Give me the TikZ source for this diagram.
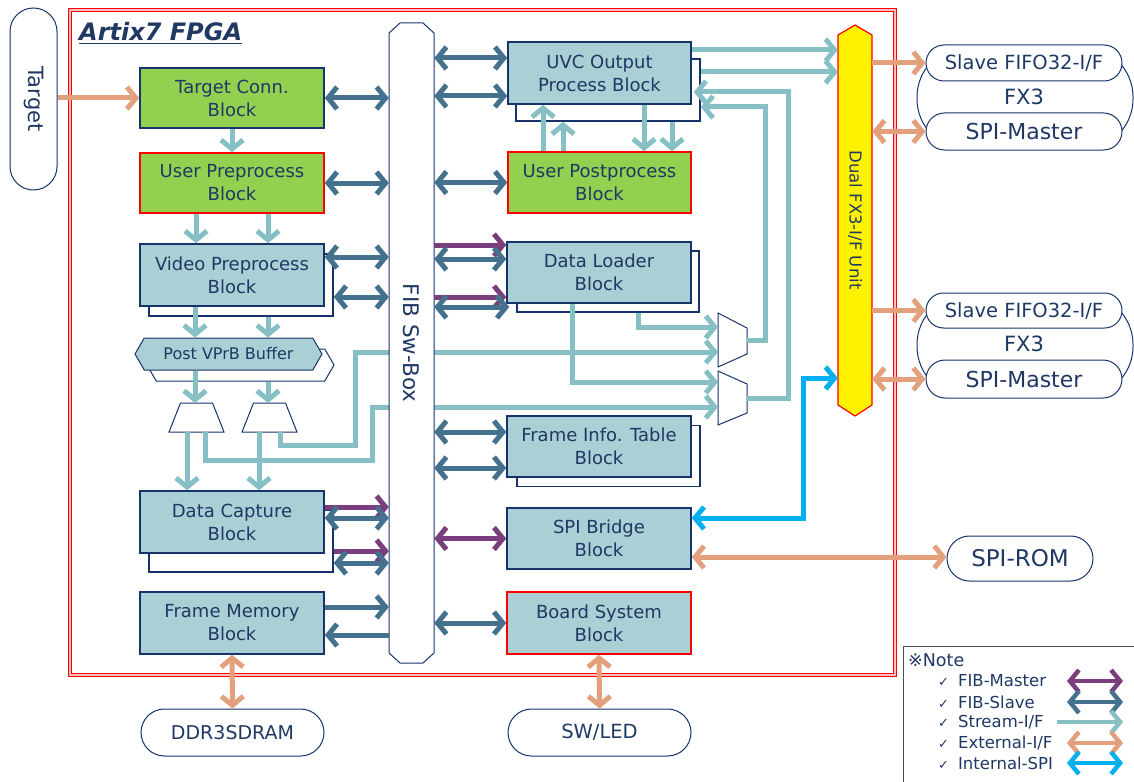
\documentclass[tikz,border=0pt]{standalone}
\usepackage{fontspec}
\setmainfont{DejaVu Sans}
\usetikzlibrary{arrows.meta,shapes.symbols,calc}
\definecolor{navy}{HTML}{17336B}
\definecolor{txtc}{HTML}{1F3864}
\definecolor{lblue}{HTML}{AACFD4}
\definecolor{grn}{HTML}{92D050}
\definecolor{steel}{HTML}{43718E}
\definecolor{purp}{HTML}{7A3E7C}
\definecolor{strc}{HTML}{86C0C4}
\definecolor{tanc}{HTML}{E2A07C}
\definecolor{cyanc}{HTML}{00B0F0}
\newcommand{\fblk}{\fontsize{18}{23}\selectfont}
\newcommand{\ckm}{{\fontsize{13}{13}\selectfont ✓}\hspace{9pt}}
\tikzset{
  txt/.style={text=txtc, align=center},
  blk/.style={draw=navy, line width=1.6pt, fill=lblue, minimum width=184pt, minimum height=61pt, inner sep=0pt, txt, font=\fblk},
  grnblk/.style={blk, fill=grn},
  backbox/.style={draw=navy, line width=1.6pt, fill=white, minimum width=184pt, minimum height=61pt, inner sep=0pt},
  pill/.style={draw=navy, line width=1pt, fill=white, inner sep=0pt, txt},
  conn/.style={line width=5pt},
  ext/.style={conn, draw=tanc},
  fibs/.style={conn, draw=steel},
  fibm/.style={conn, draw=purp},
  strm/.style={conn, draw=strc},
  ispi/.style={conn, draw=cyanc},
  muxs/.style={draw=navy, line width=1pt, fill=white},
  bufs/.style={shape=signal, signal to=west and east, signal pointer angle=120, minimum width=187pt, minimum height=32pt, inner sep=0pt, draw=navy, line width=1pt},
  legtxt/.style={anchor=west, txt, font=\fontsize{16.5}{19}\selectfont, inner sep=0pt},
}
\begin{document}
\begin{tikzpicture}[x=1pt,y=-1pt,>={Straight Barb[length=9pt,width=22pt]}]
\useasboundingbox (0,0) rectangle (1134,781);
% FPGA frame
\draw[draw=red, line width=1pt, double=red!25, double distance=1.4pt] (70,10) rectangle (895,675);
\node[anchor=west, font=\bfseries\itshape\fontsize{24}{28}\selectfont, text=txtc, inner sep=0pt] (title) at (79,32) {Artix7 FPGA};
\draw[txtc, line width=1.8pt] (title.south west) ++(0,2) -- ([yshift=-2pt]title.south east);

% external pills
\node[pill, minimum width=47pt, minimum height=182pt, rounded corners=23.5pt] (target) at (33.5,99) {\rotatebox{-90}{\fontsize{21}{24}\selectfont Target}};
\node[pill, minimum width=183pt, minimum height=47pt, rounded corners=23.5pt, font=\fontsize{19}{23}\selectfont] (ddr) at (232.5,732.5) {DDR3SDRAM};
\node[pill, minimum width=183pt, minimum height=47pt, rounded corners=23.5pt, font=\fontsize{19.5}{23}\selectfont] (swled) at (599.5,732.5) {SW/LED};
\node[pill, minimum width=146pt, minimum height=45pt, rounded corners=22.5pt, font=\fontsize{23}{26}\selectfont] (spirom) at (1020,558.5) {SPI-ROM};

% FX3 groups
\node[pill, minimum width=216pt, minimum height=102pt, rounded corners=50pt] (fx3a) at (1025,98) {};
\node[txt, font=\fontsize{21}{24}\selectfont] (fx3at) at (1024,97) {FX3};
\node[pill, minimum width=196pt, minimum height=36pt, rounded corners=18pt, font=\fontsize{19.5}{22}\selectfont] (sf1) at (1024,63) {Slave FIFO32-I/F};
\node[pill, minimum width=196pt, minimum height=37pt, rounded corners=18.5pt, font=\fontsize{22}{25}\selectfont] (sm1) at (1024,131.5) {SPI-Master};
\node[pill, minimum width=216pt, minimum height=102pt, rounded corners=50pt] (fx3b) at (1025,345.5) {};
\node[txt, font=\fontsize{21}{24}\selectfont] (fx3bt) at (1024,344) {FX3};
\node[pill, minimum width=196pt, minimum height=35pt, rounded corners=17.5pt, font=\fontsize{19.5}{22}\selectfont] (sf2) at (1024,310.5) {Slave FIFO32-I/F};
\node[pill, minimum width=196pt, minimum height=38pt, rounded corners=19pt, font=\fontsize{22}{25}\selectfont] (sm2) at (1024,379) {SPI-Master};

% left column blocks
\node[grnblk, minimum height=60pt] (tc) at (232,98) {Target Conn.\\Block};
\node[grnblk, draw=red, minimum height=60pt] (up) at (232,183) {User Preprocess\\Block};
\node[backbox, minimum height=62pt] (vpb) at (241,285) {};
\node[blk, minimum height=62pt] (vp) at (232,275) {Video Preprocess\\Block};
\node[bufs, fill=white] (bufb) at (240.5,365) {};
\node[bufs, fill=lblue, txt, font=\fontsize{16}{18}\selectfont] (buf) at (228.5,354) {Post VPrB Buffer};
\node[backbox, minimum height=62pt] (dcb) at (241,541) {};
\node[blk, minimum height=62pt] (dc) at (232,522) {Data Capture\\Block};
\node[blk, minimum height=62pt] (fm) at (232,623) {Frame Memory\\Block};

% middle column blocks
\node[backbox, minimum height=62pt] (uvcb) at (608,90) {};
\node[blk, minimum width=183pt, minimum height=62pt] (uvc) at (599.5,73) {UVC Output\\Process Block};
\node[grnblk, draw=red, minimum width=183pt] (upp) at (599.5,182.5) {User Postprocess\\Block};
\node[backbox, minimum width=182pt] (dlb) at (608,281.5) {};
\node[blk] (dl) at (599,272.5) {Data Loader\\Block};
\node[backbox, minimum width=183pt] (fitb) at (608.5,456) {};
\node[blk] (fit) at (599,446.5) {Frame Info. Table\\Block};
\node[blk] (spi) at (599,538.5) {SPI Bridge\\Block};
\node[blk, draw=red, minimum height=62pt] (bs) at (599,623) {Board System\\Block};

% muxes
\draw[muxs] (180.5,403) -- (212.5,403) -- (224,432) -- (169,432) -- cycle;
\draw[muxs] (253.5,403) -- (285.5,403) -- (297,432) -- (242,432) -- cycle;
\draw[muxs] (718,313) -- (747,328) -- (747,354) -- (718,367) -- cycle;
\draw[muxs] (718,371) -- (747,384) -- (747,413) -- (718,425) -- cycle;
\coordinate (m1i) at (195,403); \coordinate (m2i) at (268,403);
\coordinate (m1o1) at (187,432); \coordinate (m1o2) at (205,432);
\coordinate (m2o1) at (259,432); \coordinate (m2o2) at (280,432);
\coordinate (mAi1) at (718,327); \coordinate (mAi2) at (718,352); \coordinate (mAo) at (747,340);
\coordinate (mBi1) at (718,382); \coordinate (mBi2) at (718,407); \coordinate (mBo) at (747,398);

% stream lines passing behind the FIB box
\draw[strm,->] (m1o2) |- (372,460) |- (mBi2);
\draw[strm,->] (m2o2) |- (355,445) |- (mAi2);

% FIB Sw-Box
\node[minimum width=45pt, minimum height=640pt, inner sep=0pt] (fib) at (411.5,343) {};
\draw[draw=navy, line width=1pt, fill=white] (400,23) -- (423,23) -- (434,33) -- (434,653) -- (423,663) -- (400,663) -- (389,653) -- (389,33) -- cycle;
\node[txt] (fibt) at (411.5,343) {\rotatebox{-90}{\fontsize{21.5}{24}\selectfont FIB Sw-Box}};

% Dual FX3 unit
\node[minimum width=34pt, minimum height=391pt, inner sep=0pt] (dual) at (855,220.5) {};
\draw[draw=red, line width=1.2pt, fill=yellow] (838,35) -- (855,25) -- (872,35) -- (872,405) -- (855,416) -- (838,405) -- cycle;
\node[txt] (dualt) at (855,220) {\rotatebox{-90}{\fontsize{16.5}{19}\selectfont Dual FX3-I/F Unit}};

% ---- connectors: left column
\draw[ext,->] (target.east |- 0,98) -- (tc.west);
\draw[fibs,<->] (tc.east) -- (tc.east -| fib.west);
\draw[strm,->] (tc.south) -- (up.north);
\draw[fibs,<->] (up.east) -- (up.east -| fib.west);
\draw[strm,->] (up.south -| 196,0) -- (vp.north -| 196,0);
\draw[strm,->] (up.south -| 268,0) -- (vp.north -| 268,0);
\draw[fibs,<->] (vp.east |- 0,257) -- (fib.west |- 0,257);
\draw[fibs,<->] (vpb.east |- 0,297) -- (fib.west |- 0,297);
\draw[strm,->] (vp.south -| 195,0) -- (buf.north -| 195,0);
\draw[strm,->] (vpb.south -| 268,0) -- (buf.north -| 268,0);
\draw[strm,->] (buf.south -| 195,0) -- (m1i);
\draw[strm,->] (bufb.south -| 268,0) -- (m2i);
\draw[strm,->] (m1o1) -- (dc.north -| m1o1);
\draw[strm,->] (m2o1) -- (dc.north -| m2o1);
\draw[fibm,->] (dc.east |- 0,507) -- (fib.west |- 0,507);
\draw[fibs,<->] (dc.east |- 0,518) -- (fib.west |- 0,518);
\draw[fibm,->] (dcb.east |- 0,551) -- (fib.west |- 0,551);
\draw[fibs,<->] (dcb.east |- 0,563) -- (fib.west |- 0,563);
\draw[fibs,->] (fm.east |- 0,607) -- (fib.west |- 0,607);
\draw[fibs,->] (fib.west |- 0,635) -- (fm.east |- 0,635);
\draw[ext,<->] (fm.south) -- (ddr.north);

% ---- connectors: middle column
\draw[fibs,<->] (fib.east |- 0,58) -- (uvc.west |- 0,58);
\draw[fibs,<->] (fib.east |- 0,96) -- (uvc.west |- 0,96);
\draw[fibs,<->] (fib.east |- upp.west) -- (upp.west);
\draw[strm,->] (upp.north -| 543,0) -- (uvc.south -| 543,0);
\draw[strm,->] (upp.north -| 563,0) -- (uvcb.south -| 563,0);
\draw[strm,->] (uvc.south -| 644,0) -- (upp.north -| 644,0);
\draw[strm,->] (uvcb.south -| 672,0) -- (upp.north -| 672,0);
\draw[strm,->] (uvc.east |- 0,50) -- (dual.west |- 0,50);
\draw[strm,->] (uvcb.east |- 0,72) -- (dual.west |- 0,72);
\draw[strm,->] (mAo) -| (765,107) -- (uvcb.east |- 0,107);
\draw[strm,->] (mBo) -| (788,92) -- ([xshift=2pt]uvc.east |- 0,92);
\draw[fibm,->] (fib.east |- 0,245) -- (dl.west |- 0,245);
\draw[fibs,<->] (fib.east |- 0,259) -- (dl.west |- 0,259);
\draw[fibm,->] (fib.east |- 0,297) -- (dl.west |- 0,297);
\draw[fibs,<->] (fib.east |- 0,307) -- ([xshift=3pt]dl.west |- 0,307);
\draw[strm,->] (dlb.south -| 638,0) |- (mAi1);
\draw[strm,->] (dl.south -| 572,0) |- (mBi1);
\draw[fibs,<->] (fib.east |- 0,432) -- (fit.west |- 0,432);
\draw[fibs,<->] (fib.east |- 0,468) -- (fit.west |- 0,468);
\draw[fibm,<->] (fib.east |- spi.west) -- (spi.west);
\draw[ispi,<->] (spi.east |- 0,518) -| (803,378) -- (dual.west |- 0,378);
\draw[ext,<->] (spi.east |- 0,557) -- (spirom.west |- 0,557);
\draw[fibs,<->] (fib.east |- bs.west) -- (bs.west);
\draw[ext,<->] (bs.south) -- (swled.north);

% ---- connectors: right
\draw[ext,->] (dual.east |- sf1.west) -- (sf1.west);
\draw[ext,<->] (dual.east |- sm1.west) -- (sm1.west);
\draw[ext,->] (dual.east |- sf2.west) -- (sf2.west);
\draw[ext,<->] (dual.east |- sm2.west) -- (sm2.west);

% ---- legend
\node[draw=black!70, line width=1pt, fill=white, minimum width=240pt, minimum height=150pt, anchor=north west] (note) at (903,646) {};
\node[anchor=west, txt, font=\fontsize{17.5}{20}\selectfont, inner sep=0pt] (notet) at (908,660) {※Note};
\node[legtxt] (l1) at (938,681) {\ckm FIB-Master};
\node[legtxt] (l2) at (938,702) {\ckm FIB-Slave};
\node[legtxt] (l3) at (938,722) {\ckm Stream-I/F};
\node[legtxt] (l4) at (938,743) {\ckm External-I/F};
\node[legtxt] (l5) at (938,763) {\ckm Internal-SPI};
\coordinate (l1a) at (1067,681); \coordinate (l1b) at (1123,681);
\coordinate (l2a) at (1067,702); \coordinate (l2b) at (1123,702);
\coordinate (l3a) at (1057,722); \coordinate (l3b) at (1123,722);
\coordinate (l4a) at (1067,743); \coordinate (l4b) at (1123,743);
\coordinate (l5a) at (1067,763); \coordinate (l5b) at (1123,763);
\draw[fibm,line width=4.5pt,<->] (l1a) -- (l1b);
\draw[fibs,line width=4.5pt,<->] (l2a) -- (l2b);
\draw[strm,line width=4.5pt,->] (l3a) -- (l3b);
\draw[ext,line width=4.5pt,<->] (l4a) -- (l4b);
\draw[ispi,line width=4.5pt,<->] (l5a) -- (l5b);
\end{tikzpicture}
\end{document}
